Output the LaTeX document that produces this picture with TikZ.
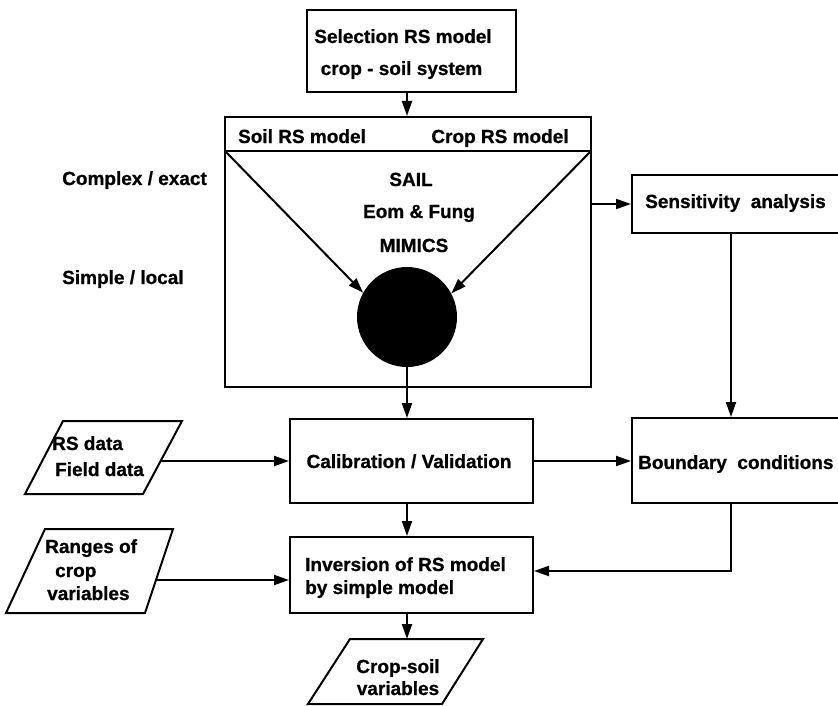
\documentclass[tikz,border=0pt]{standalone}
\usepackage{fontspec}
\setmainfont{Liberation Sans}[BoldFeatures={FakeBold=0.8}]
\usetikzlibrary{arrows.meta,calc}

\tikzset{
  lbl/.style={font=\fontsize{19}{22}\selectfont\bfseries, inner sep=0pt, anchor=base},
  lbll/.style={lbl, anchor=base west},
  box/.style={draw, line width=2pt, rectangle, inner sep=0pt},
  conn/.style={line width=2pt},
  arr/.style={conn, -{Triangle[length=15pt,width=10pt]}},
  para/.style={line width=2pt, line join=miter},
}

\begin{document}
\begin{tikzpicture}[x=1pt,y=-1pt]
\clip (0,0) rectangle (838,706);

% ---- boxes ----
\node[box, minimum width=209pt, minimum height=82pt] (sel) at (411.5,51) {};
\node[box, minimum width=366pt, minimum height=270pt] (model) at (408,252) {};
\coordinate (hl) at (225,151);
\coordinate (hr) at (591,151);
\draw[conn] (hl) -- (hr);
\node[circle, fill=black, minimum size=100pt, inner sep=0pt] (bb) at (407,317) {};

\node[box, minimum width=218pt, minimum height=58pt] (sens) at (741,204) {};
\node[box, minimum width=243pt, minimum height=84pt] (calib) at (411.5,461) {};
\node[box, minimum width=218pt, minimum height=85pt] (bound) at (741,460.5) {};
\node[box, minimum width=243pt, minimum height=76pt] (inv) at (411.5,575) {};

% ---- input / output parallelograms ----
\coordinate (rs1) at (63,421);  \coordinate (rs2) at (182,421);
\coordinate (rs3) at (143,494); \coordinate (rs4) at (25,494);
\draw[para] (rs1) -- (rs2) -- (rs3) -- (rs4) -- cycle;
\coordinate (rsout) at (161,461);

\coordinate (rg1) at (45,529);  \coordinate (rg2) at (173,529);
\coordinate (rg3) at (145,613); \coordinate (rg4) at (6,613);
\draw[para] (rg1) -- (rg2) -- (rg3) -- (rg4) -- cycle;
\coordinate (rgout) at (156,580);

\coordinate (cs1) at (350,639); \coordinate (cs2) at (483,639);
\coordinate (cs3) at (442,704); \coordinate (cs4) at (308,704);
\draw[para] (cs1) -- (cs2) -- (cs3) -- (cs4) -- cycle;
\coordinate (csin) at (407,639);

% ---- texts ----
\node[lbl] (t-sel1) at (403,43) {Selection RS model};
\node[lbl] (t-sel2) at (401.5,75) {crop - soil system};
\node[lbl] (t-soil) at (302,143) {Soil RS model};
\node[lbl] (t-crop) at (500,143) {Crop RS model};
\node[lbl] (t-sail) at (411,186) {SAIL};
\node[lbl] (t-eom) at (419,218) {Eom \& Fung};
\node[lbl] (t-mim) at (414,252) {MIMICS};
\node[lbll] (t-cx) at (62,185) {Complex / exact};
\node[lbll] (t-sl) at (62,284) {Simple / local};
\node[lbll] (t-sens) at (645,208) {Sensitivity\ \ analysis};
\node[lbl] (t-cal) at (409,468) {Calibration / Validation};
\node[lbll] (t-bnd) at (638,469) {Boundary\ \ conditions};
\node[lbll] (t-inv1) at (305,571) {Inversion of RS model};
\node[lbll] (t-inv2) at (305,594) {by simple model};
\node[lbll] (t-rs1) at (52,450) {RS data};
\node[lbll] (t-rs2) at (55,476) {Field data};
\node[lbll] (t-rg1) at (45,553) {Ranges of};
\node[lbll] (t-rg2) at (55,577) {crop};
\node[lbll] (t-rg3) at (47,600) {variables};
\node[lbl] (t-cs1) at (398,673) {Crop-soil};
\node[lbl] (t-cs2) at (398,695) {variables};

% ---- connectors ----
\coordinate (vx) at (731,0);
\draw[arr] (sel.south -| bb) -- (model.north -| bb);
\draw[arr] (hl) -- (bb.151);
\draw[arr] (hr) -- (bb.28);
\draw[arr] (bb.south) -- (calib.north -| bb);
\draw[arr] (model.east |- sens) -- (sens.west);
\draw[arr] (sens.south -| vx) -- (bound.north -| vx);
\draw[arr] (calib.east) -- (calib.east -| bound.west);
\draw[arr] (bound.south -| vx) |- ($(inv.east)+(0,-4)$);
\draw[arr] (calib.south -| bb) -- (inv.north -| bb);
\draw[arr] (inv.south -| bb) -- (csin);
\draw[arr] (rsout) -- (rsout -| calib.west);
\draw[arr] (rgout) -- (rgout -| inv.west);
\end{tikzpicture}
\end{document}
